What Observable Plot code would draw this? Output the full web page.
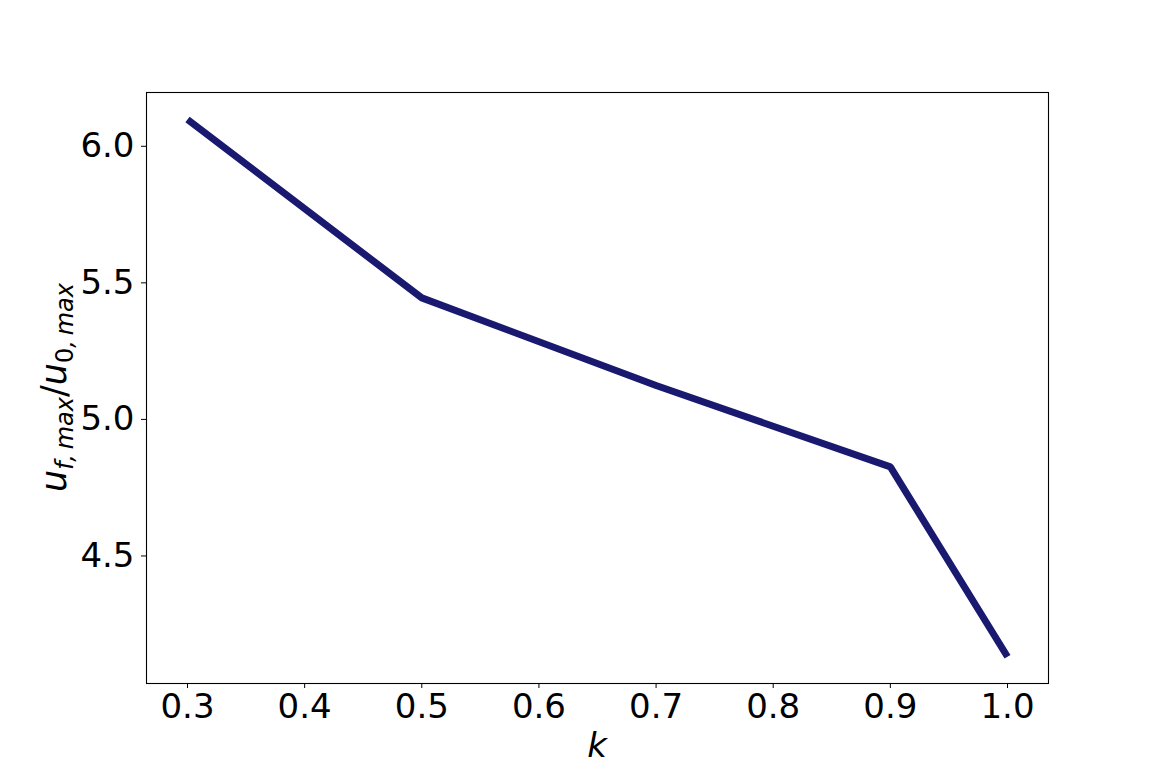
<!DOCTYPE html>
<html>
<head>
<meta charset="utf-8">
<script src="https://cdn.jsdelivr.net/npm/d3@7"></script>
<script src="https://cdn.jsdelivr.net/npm/@observablehq/plot@0.6"></script>
<style>
  html, body { margin: 0; padding: 0; background: #fff; }
  #chart svg { display: block; font-family: "DejaVu Sans", sans-serif; }
</style>
</head>
<body>
<div id="chart"></div>
<script>
const kValues = [0.3, 0.5, 0.7, 0.9, 1.0];
const ratioValues = [6.098, 5.445, 5.124, 4.826, 4.131];
const xTicks = [0.3, 0.4, 0.5, 0.6, 0.7, 0.8, 0.9, 1.0];
const yTicks = [4.5, 5.0, 5.5, 6.0];

const data = kValues.map((k, i) => ({k, r: ratioValues[i]}));

const W = 1166, H = 767;
const mL = 146, mR = 118, mT = 92, mB = 84;

const chart = Plot.plot({
  width: W,
  height: H,
  marginLeft: mL,
  marginRight: mR,
  marginTop: mT,
  marginBottom: mB,
  style: {fontFamily: "DejaVu Sans, sans-serif", background: "#fff", color: "#000"},
  x: {domain: [0.265, 1.035]},
  y: {domain: [4.033, 6.197]},
  marks: [
    Plot.frame({stroke: "#000", strokeWidth: 1.1}),
    Plot.axisX({ticks: xTicks, tickFormat: d3.format(".1f"), tickSize: 5, tickPadding: 5,
      fontSize: 34, fontFamily: "DejaVu Sans", label: null, stroke: "#000", strokeWidth: 1}),
    Plot.axisY({ticks: yTicks, tickFormat: d3.format(".1f"), tickSize: 5, tickPadding: 7,
      fontSize: 34, fontFamily: "DejaVu Sans", label: null, stroke: "#000", strokeWidth: 1}),
    Plot.line(data, {x: "k", y: "r", stroke: "#191970", strokeWidth: 7,
      strokeLinecap: "butt", strokeLinejoin: "miter"})
  ]
});

const svg = d3.select(chart);
// x-axis label
svg.append("text")
  .attr("x", (mL + (W - mR)) / 2)
  .attr("y", 757)
  .attr("text-anchor", "middle")
  .attr("font-size", 34)
  .attr("font-style", "italic")
  .attr("font-family", "DejaVu Sans, sans-serif")
  .attr("fill", "#000")
  .text("k");

// y-axis label with subscripts
const yl = svg.append("text")
  .attr("transform", `translate(66, ${(mT + (H - mB)) / 2}) rotate(-90)`)
  .attr("text-anchor", "middle")
  .attr("font-size", 35)
  .attr("font-family", "DejaVu Sans, sans-serif")
  .attr("fill", "#000");
yl.append("tspan").attr("font-style", "italic").text("u");
yl.append("tspan").attr("font-style", "italic").attr("font-size", 24).attr("dy", 7).text("f,\u2009max");
yl.append("tspan").attr("dy", -7).text("/");
yl.append("tspan").attr("font-style", "italic").text("u");
yl.append("tspan").attr("font-size", 24).attr("dy", 7).text("0");
yl.append("tspan").attr("font-style", "italic").attr("font-size", 24).text(",\u2009max");

document.getElementById("chart").appendChild(chart);
</script>
</body>
</html>
